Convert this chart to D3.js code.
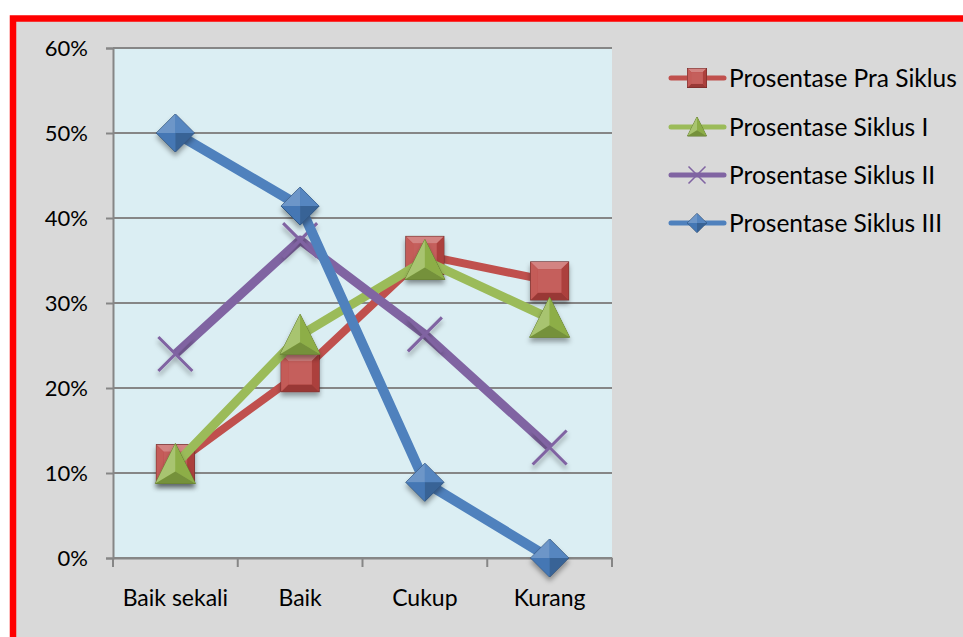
<!DOCTYPE html>
<html>
<head>
<meta charset="utf-8">
<script src="https://cdn.jsdelivr.net/npm/d3@7"></script>
<style>
  html, body { margin: 0; padding: 0; background: #ffffff; }
  svg { display: block; }
</style>
</head>
<body>
<svg id="chart" width="963" height="637"></svg>
<script>
// Categories and percentages per cycle
const categories = ["Baik sekali", "Baik", "Cukup", "Kurang"];
const praSiklus = [11.1, 21.8, 35.6, 32.6];
const siklusI = [11.0, 26.2, 35.0, 28.2];
const siklusII = [24.0, 37.4, 26.3, 13.0];
const siklusIII = [50.0, 41.4, 8.9, 0.0];
const yTicks = [0, 10, 20, 30, 40, 50, 60];
const seriesNames = ["Prosentase Pra Siklus", "Prosentase Siklus I", "Prosentase Siklus II", "Prosentase Siklus III"];

const series = [
  { name: seriesNames[0], values: praSiklus, color: "#c0504d", marker: "square" },
  { name: seriesNames[1], values: siklusI, color: "#9bbb59", marker: "triangle" },
  { name: seriesNames[2], values: siklusII, color: "#8064a2", marker: "x" },
  { name: seriesNames[3], values: siklusIII, color: "#4f81bd", marker: "diamond" }
];

const svg = d3.select("#chart");
const font = "Lato, 'Open Sans', sans-serif";

// Chart area with red frame
svg.append("rect").attr("x", 13).attr("y", 18.5).attr("width", 960).attr("height", 640)
  .attr("fill", "#d9d9d9").attr("stroke", "#ff0000").attr("stroke-width", 6.5);

const defs = svg.append("defs");
const shadow = defs.append("filter").attr("id", "shadow")
  .attr("x", "-50%").attr("y", "-50%").attr("width", "200%").attr("height", "200%");
shadow.append("feDropShadow").attr("dx", 0).attr("dy", 4).attr("stdDeviation", 2.5)
  .attr("flood-color", "#000").attr("flood-opacity", 0.35);

const plot = { left: 113, top: 48, right: 612, bottom: 558 };

const x = d3.scaleBand().domain(categories).range([plot.left, plot.right]).padding(0);
const y = d3.scaleLinear().domain([0, 60]).range([plot.bottom, plot.top]);
const cx = c => x(c) + x.bandwidth() / 2;

// Plot background
svg.append("rect").attr("x", plot.left).attr("y", plot.top)
  .attr("width", plot.right - plot.left).attr("height", plot.bottom - plot.top)
  .attr("fill", "#dbeef3");

// Horizontal gridlines
svg.append("g").selectAll("line").data(yTicks).join("line")
  .attr("x1", plot.left).attr("x2", plot.right)
  .attr("y1", d => y(d)).attr("y2", d => y(d))
  .attr("stroke", "#868686").attr("stroke-width", 2);

// Y axis
const yAxis = svg.append("g").attr("transform", `translate(${plot.left},0)`)
  .call(d3.axisLeft(y).tickValues(yTicks).tickSize(7).tickPadding(18).tickFormat(d => d + "%"));
yAxis.select(".domain").attr("stroke", "#868686").attr("stroke-width", 2);
yAxis.selectAll(".tick line").attr("stroke", "#868686").attr("stroke-width", 2);
yAxis.selectAll("text").attr("font-family", font).attr("font-size", 22).attr("fill", "#000");

// X axis
const xAxis = svg.append("g").attr("transform", `translate(0,${plot.bottom})`)
  .call(d3.axisBottom(x).tickSize(0).tickPadding(32));
xAxis.select(".domain").attr("stroke", "#868686").attr("stroke-width", 2);
xAxis.selectAll("text").attr("font-family", font).attr("font-size", 23).attr("fill", "#000");
// Category boundary ticks
const bounds = categories.map(c => x(c)).concat([plot.right]);
svg.append("g").selectAll("line").data(bounds).join("line")
  .attr("x1", d => d).attr("x2", d => d)
  .attr("y1", plot.bottom).attr("y2", plot.bottom + 9)
  .attr("stroke", "#868686").attr("stroke-width", 2);

// Marker drawing with bevelled facets
function shade(c, k) {
  const h = d3.hsl(c);
  h.l = Math.max(0, Math.min(1, h.l + k));
  return h.formatHex();
}

function drawMarker(g, type, color, s) {
  const h = s / 2;
  if (type === "square") {
    const i = h * 0.62;
    g.append("rect").attr("x", -h).attr("y", -h).attr("width", s).attr("height", s)
      .attr("fill", shade(color, -0.02)).attr("stroke", shade(color, -0.25)).attr("stroke-width", 1);
    g.append("path").attr("d", `M${-h},${-h}L${h},${-h}L${i},${-i}L${-i},${-i}Z`).attr("fill", shade(color, 0.14));
    g.append("path").attr("d", `M${-h},${h}L${h},${h}L${i},${i}L${-i},${i}Z`).attr("fill", shade(color, -0.12));
    g.append("path").attr("d", `M${-h},${-h}L${-i},${-i}L${-i},${i}L${-h},${h}Z`).attr("fill", shade(color, 0.03));
    g.append("path").attr("d", `M${h},${-h}L${i},${-i}L${i},${i}L${h},${h}Z`).attr("fill", shade(color, -0.07));
    g.append("rect").attr("x", -i).attr("y", -i).attr("width", 2 * i).attr("height", 2 * i)
      .attr("fill", shade(color, 0.04));
  } else if (type === "triangle") {
    const top = -h * 1.05, bot = h * 0.95;
    const mx = 0, my = bot - (bot - top) * 0.3;
    g.append("path").attr("d", `M0,${top}L${h},${bot}L${-h},${bot}Z`)
      .attr("fill", color).attr("stroke", shade(color, -0.2)).attr("stroke-width", 1);
    g.append("path").attr("d", `M0,${top}L${mx},${my}L${-h},${bot}Z`).attr("fill", shade(color, 0.06));
    g.append("path").attr("d", `M0,${top}L${h},${bot}L${mx},${my}Z`).attr("fill", shade(color, -0.06));
    g.append("path").attr("d", `M${-h},${bot}L${mx},${my}L${h},${bot}Z`).attr("fill", shade(color, -0.14));
  } else if (type === "diamond") {
    g.append("path").attr("d", `M0,${-h}L${h},0L0,${h}L${-h},0Z`)
      .attr("fill", color).attr("stroke", shade(color, -0.25)).attr("stroke-width", 1);
    g.append("path").attr("d", `M0,${-h}L0,0L${-h},0Z`).attr("fill", shade(color, 0.08));
    g.append("path").attr("d", `M0,${-h}L${h},0L0,0Z`).attr("fill", shade(color, 0.02));
    g.append("path").attr("d", `M${-h},0L0,0L0,${h}Z`).attr("fill", shade(color, -0.04));
    g.append("path").attr("d", `M0,0L${h},0L0,${h}Z`).attr("fill", shade(color, -0.12));
  } else if (type === "x") {
    g.append("path").attr("d", `M${-h},${-h}L${h},${h}M${h},${-h}L${-h},${h}`)
      .attr("stroke", color).attr("stroke-width", s * 0.09).attr("fill", "none");
  }
}

const markerSize = { square: 38, triangle: 40, diamond: 38, x: 34 };
const lineWidth = { square: 8, triangle: 9, diamond: 10, x: 9 };

const line = d3.line().x(d => cx(d.c)).y(d => y(d.v));

series.forEach(s => {
  const pts = categories.map((c, i) => ({ c, v: s.values[i] }));
  const g = svg.append("g");
  g.append("path").datum(pts).attr("d", line)
    .attr("fill", "none").attr("stroke", s.color)
    .attr("stroke-width", lineWidth[s.marker]).attr("stroke-linejoin", "round");
  g.selectAll("g.m").data(pts).join("g").attr("class", "m")
    .attr("transform", d => `translate(${cx(d.c)},${y(d.v)})`)
    .attr("filter", "url(#shadow)")
    .each(function () { drawMarker(d3.select(this), s.marker, s.color, markerSize[s.marker]); });
});

// Legend
const legendY = [78, 127, 175, 223];
const lg = svg.append("g");
series.forEach((s, i) => {
  const row = lg.append("g").attr("transform", `translate(0,${legendY[i]})`);
  row.append("line").attr("x1", 671).attr("x2", 724).attr("y1", 0).attr("y2", 0)
    .attr("stroke", s.color).attr("stroke-width", 5).attr("stroke-linecap", "round");
  const m = row.append("g").attr("transform", "translate(697,0)");
  drawMarker(m, s.marker, s.color, s.marker === "x" ? 17 : 19);
  row.append("text").attr("x", 729).attr("y", 0).attr("dy", "0.36em")
    .attr("font-family", font).attr("font-size", 24.5).attr("fill", "#000")
    .text(s.name);
});
</script>
</body>
</html>
